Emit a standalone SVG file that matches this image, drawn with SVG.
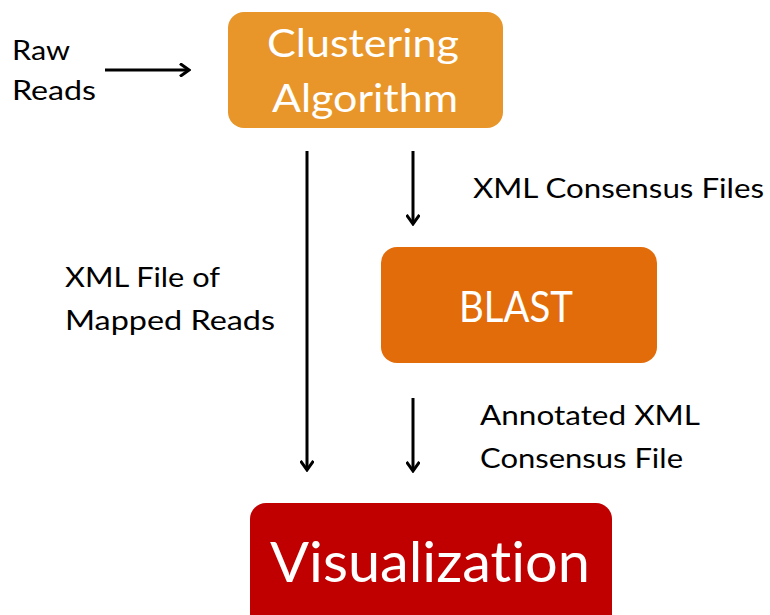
<svg xmlns="http://www.w3.org/2000/svg" width="770" height="615" viewBox="0 0 770 615">
  <defs>
    <style>
      text { font-family: Lato, "Open Sans", "Liberation Sans", sans-serif; font-variant-ligatures: none; font-feature-settings: "liga" 0, "clig" 0; }
      .label { font-size: 27px; fill: #000000; }
      .title { fill: #ffffff; }
      .edge { stroke: #000000; stroke-width: 3; fill: none; marker-end: url(#vhead); }
    </style>
    <marker id="vhead" viewBox="0 0 14 14" refX="12" refY="7" markerWidth="14" markerHeight="14" markerUnits="userSpaceOnUse" orient="auto">
      <path d="M3,0.5 L12,7 L3,13.5" fill="none" stroke="#000000" stroke-width="3" stroke-linejoin="miter"/>
    </marker>
  </defs>
  <rect width="770" height="615" fill="#ffffff"/>

  <g id="raw-reads">
    <text class="label" x="12" y="60" textLength="58" lengthAdjust="spacingAndGlyphs">Raw</text>
    <text class="label" x="12" y="100" textLength="84" lengthAdjust="spacingAndGlyphs">Reads</text>
  </g>

  <g id="clustering">
    <rect x="228" y="12" width="275" height="116" rx="16" fill="#E8962A"/>
    <text class="title" x="267" y="57" font-size="38" textLength="192" lengthAdjust="spacingAndGlyphs">Clustering</text>
    <text class="title" x="272" y="112" font-size="38" textLength="186" lengthAdjust="spacingAndGlyphs">Algorithm</text>
  </g>

  <g id="blast">
    <rect x="381" y="247" width="276" height="116" rx="16" fill="#E36C0A"/>
    <text class="title" x="459" y="322" font-size="43" textLength="114" lengthAdjust="spacingAndGlyphs">BLAST</text>
  </g>

  <g id="visualization">
    <rect x="250" y="503" width="362" height="130" rx="16" fill="#C00000"/>
    <text class="title" x="270" y="582" font-size="56" textLength="320" lengthAdjust="spacingAndGlyphs">Visualization</text>
  </g>

  <g id="connectors">
    <line class="edge" x1="105" y1="70" x2="189" y2="70"/>
    <line class="edge" x1="307" y1="151" x2="307" y2="470"/>
    <line class="edge" x1="413" y1="151" x2="413" y2="224"/>
    <line class="edge" x1="413" y1="398" x2="413" y2="471"/>
  </g>

  <g id="connector-labels">
    <text class="label" x="473" y="198" textLength="291" lengthAdjust="spacingAndGlyphs">XML Consensus Files</text>
    <text class="label" x="65" y="287" textLength="155" lengthAdjust="spacingAndGlyphs">XML File of</text>
    <text class="label" x="65" y="330" textLength="210" lengthAdjust="spacingAndGlyphs">Mapped Reads</text>
    <text class="label" x="480" y="425" textLength="220" lengthAdjust="spacingAndGlyphs">Annotated XML</text>
    <text class="label" x="480" y="468" textLength="203" lengthAdjust="spacingAndGlyphs">Consensus File</text>
  </g>
</svg>
